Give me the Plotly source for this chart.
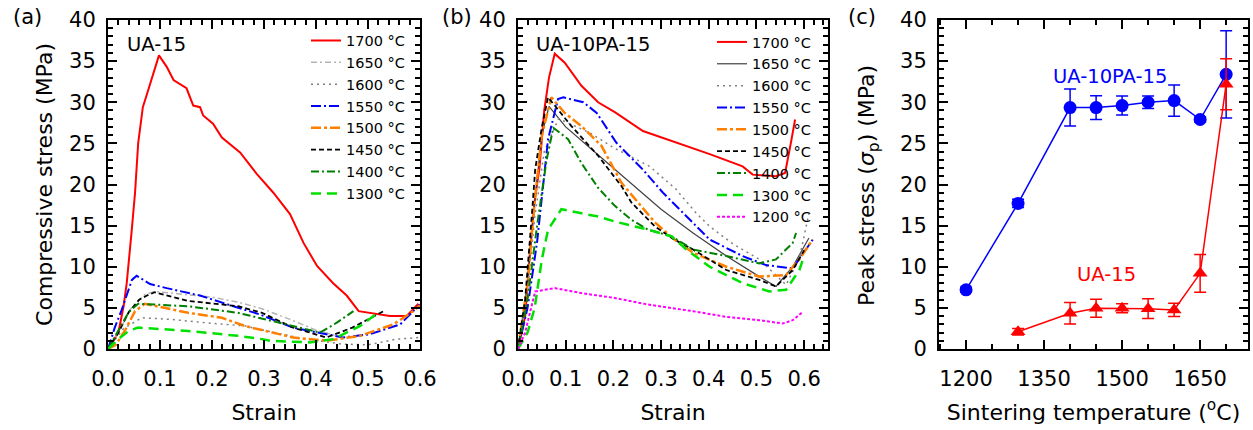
import plotly.graph_objects as go

# ---------------- data: panel (a) UA-15 ----------------
a_1700_x = [0, 0.02, 0.03, 0.036, 0.045, 0.052, 0.058, 0.067, 0.075, 0.085, 0.098, 0.113, 0.126, 0.151, 0.164, 0.177, 0.183, 0.202, 0.219, 0.254, 0.286, 0.318, 0.35, 0.376, 0.402, 0.433, 0.459, 0.482, 0.517, 0.542, 0.574, 0.597]
a_1700_y = [0, 2, 5.2, 8, 14, 19, 25, 29.4, 31, 33, 35.7, 34.3, 32.7, 31.7, 29.6, 29.4, 28.4, 27.4, 25.7, 23.9, 21.3, 19, 16.4, 12.9, 10.1, 8, 6.5, 4.6, 4.3, 4.0, 4.0, 5.5]
a_1650_x = [0, 0.02, 0.045, 0.07, 0.09, 0.15, 0.2, 0.25, 0.296, 0.35, 0.4, 0.44]
a_1650_y = [0, 2, 5, 6.6, 7.0, 6.6, 6.3, 5.7, 4.9, 3.6, 2.3, 1.6]
a_1600_x = [0, 0.03, 0.065, 0.12, 0.187, 0.263, 0.32, 0.38, 0.45, 0.5, 0.555, 0.6]
a_1600_y = [0, 2.5, 3.8, 3.6, 3.2, 2.8, 2.0, 1.2, 0.6, 0.5, 1.2, 1.4]
a_1550_x = [0, 0.013, 0.026, 0.046, 0.055, 0.081, 0.113, 0.177, 0.241, 0.292, 0.356, 0.401, 0.452, 0.504, 0.562, 0.587, 0.6]
a_1550_y = [0, 2.6, 4.7, 8.4, 8.9, 7.9, 7.4, 6.5, 5.2, 4.2, 2.6, 2.0, 1.4, 1.8, 3.0, 4.6, 5.4]
a_1500_x = [0, 0.015, 0.033, 0.052, 0.071, 0.1, 0.154, 0.219, 0.263, 0.296, 0.356, 0.42, 0.485, 0.549, 0.587, 0.6]
a_1500_y = [0, 0.5, 2.3, 4.6, 5.5, 5.1, 4.4, 3.8, 2.8, 2.3, 1.4, 1.0, 1.6, 3.0, 4.6, 5.3]
a_1450_x = [0, 0.02, 0.04, 0.06, 0.075, 0.09, 0.154, 0.25, 0.296, 0.356, 0.42, 0.47, 0.533]
a_1450_y = [0, 2, 4.5, 6.0, 6.5, 6.9, 5.85, 5.2, 4.4, 2.6, 1.4, 2.6, 4.7]
a_1400_x = [0, 0.02, 0.04, 0.058, 0.1, 0.154, 0.25, 0.302, 0.35, 0.408, 0.44, 0.472]
a_1400_y = [0, 2.2, 4.5, 5.5, 5.4, 5.2, 4.4, 3.6, 2.8, 2.0, 3.2, 4.6]
a_1300_x = [0, 0.02, 0.04, 0.058, 0.154, 0.25, 0.296, 0.312, 0.388, 0.433, 0.485, 0.523]
a_1300_y = [0, 1.2, 2.2, 2.6, 2.2, 1.6, 1.2, 1.0, 0.8, 1.2, 2.8, 4.6]

# ---------------- data: panel (b) UA-10PA-15 ----------------
b_1700_x = [0, 0.015, 0.025, 0.035, 0.045, 0.055, 0.065, 0.077, 0.098, 0.133, 0.168, 0.203, 0.262, 0.322, 0.402, 0.471, 0.492, 0.541, 0.56, 0.572, 0.581]
b_1700_y = [0, 4, 11.7, 18, 22, 29, 33, 35.9, 34.8, 32, 30, 28.8, 26.5, 25.3, 23.7, 22.2, 21.2, 21.0, 21.4, 25, 27.9]
b_1650_x = [0, 0.02, 0.035, 0.05, 0.065, 0.1, 0.15, 0.2, 0.25, 0.3, 0.367, 0.437, 0.506, 0.541, 0.576, 0.61]
b_1650_y = [0, 8, 18, 26, 29.5, 27, 24.5, 22, 19.5, 17, 14.1, 11.3, 8.8, 7.6, 10, 13.5]
b_1600_x = [0, 0.02, 0.035, 0.055, 0.085, 0.15, 0.2, 0.276, 0.33, 0.374, 0.402, 0.45, 0.506, 0.562, 0.59, 0.61]
b_1600_y = [0, 7, 16, 24, 28, 26.3, 24.5, 22.2, 19.5, 16.5, 14.9, 12.8, 10.9, 7.8, 11, 16.5]
b_1550_x = [0, 0.02, 0.04, 0.056, 0.063, 0.084, 0.095, 0.137, 0.165, 0.206, 0.262, 0.304, 0.339, 0.402, 0.471, 0.52, 0.576, 0.618]
b_1550_y = [0, 5, 13, 21.5, 25.5, 30.4, 30.6, 30, 28.7, 25.1, 21.8, 19, 17, 13.3, 11.3, 10.2, 9.8, 13.3]
b_1500_x = [0, 0.02, 0.035, 0.05, 0.07, 0.098, 0.133, 0.175, 0.217, 0.287, 0.328, 0.367, 0.437, 0.506, 0.562, 0.59, 0.618]
b_1500_y = [0, 8, 18, 26, 30.6, 28.7, 27.1, 24.7, 20.2, 15.4, 13.3, 11.7, 10, 8.8, 9.0, 10.9, 13.3]
b_1450_x = [0, 0.015, 0.03, 0.036, 0.05, 0.063, 0.112, 0.168, 0.217, 0.238, 0.287, 0.328, 0.367, 0.437, 0.506, 0.541, 0.576, 0.6]
b_1450_y = [0, 6, 17, 21.8, 27, 30.6, 27.1, 23.5, 19.8, 17.8, 14.9, 13.3, 12.1, 9.6, 8.4, 7.6, 9.6, 12]
b_1400_x = [0, 0.02, 0.04, 0.06, 0.074, 0.105, 0.133, 0.168, 0.203, 0.238, 0.273, 0.322, 0.367, 0.437, 0.506, 0.541, 0.576, 0.583]
b_1400_y = [0, 6, 15, 23, 26.9, 25.5, 22.6, 19.6, 17.4, 15.7, 14.5, 13.7, 12.1, 11.3, 10.4, 10.9, 12.9, 14.1]
b_1300_x = [0, 0.02, 0.035, 0.043, 0.05, 0.063, 0.091, 0.133, 0.168, 0.203, 0.273, 0.322, 0.353, 0.402, 0.471, 0.527, 0.562, 0.59, 0.598]
b_1300_y = [0, 2, 5, 8.4, 10.9, 14.5, 17, 16.5, 16.1, 15.5, 14.5, 13.7, 12.1, 10, 8, 7, 7.2, 9.6, 11]
b_1200_x = [0, 0.015, 0.036, 0.077, 0.133, 0.203, 0.273, 0.322, 0.367, 0.437, 0.506, 0.555, 0.576, 0.597]
b_1200_y = [0, 2, 7, 7.4, 6.8, 6.2, 5.4, 5.0, 4.6, 3.9, 3.5, 3.1, 3.5, 4.5]

# ---------------- data: panel (c) peak stress ----------------
temps_10pa = [1200, 1300, 1400, 1450, 1500, 1550, 1600, 1650, 1700]
peak_10pa = [7.2, 17.7, 29.35, 29.35, 29.6, 30.0, 30.2, 27.9, 33.4]
err_10pa = [0.3, 0.5, 2.25, 1.45, 1.15, 0.75, 1.9, 0.3, 5.3]
temps_15 = [1300, 1400, 1450, 1500, 1550, 1600, 1650, 1700]
peak_15 = [2.1, 4.35, 4.96, 4.96, 4.9, 4.75, 9.2, 32.2]
err_15 = [0.4, 1.3, 1.1, 0.55, 1.2, 0.8, 2.3, 3.1]

x_ticks_c = [1200, 1350, 1500, 1650]

W, H = 1253, 430
FONT = "DejaVu Sans"

def px(x):
    return x / W

def py(y):
    return 1 - y / H

styles = {
    "1700": dict(color="#ff0000", dash="solid", width=2),
    "1650a": dict(color="#b4b4b4", dash="6px,3px,2px,3px", width=1.5),
    "1650b": dict(color="#404040", dash="solid", width=1.2),
    "1600": dict(color="#808080", dash="2px,4px", width=1.5),
    "1550": dict(color="#0000ff", dash="10px,3px,2px,3px", width=2),
    "1500": dict(color="#ff8000", dash="10px,3px,3px,3px", width=2.5),
    "1450": dict(color="#000000", dash="5px,3px", width=1.8),
    "1400": dict(color="#008000", dash="8px,3px,2px,3px", width=2),
    "1300": dict(color="#00e000", dash="10px,6px", width=2.5),
    "1200": dict(color="#ff00ff", dash="3px,2px", width=2),
}

fig = go.Figure()

a_series = [
    ("1700 °C", a_1700_x, a_1700_y, "1700"),
    ("1650 °C", a_1650_x, a_1650_y, "1650a"),
    ("1600 °C", a_1600_x, a_1600_y, "1600"),
    ("1550 °C", a_1550_x, a_1550_y, "1550"),
    ("1500 °C", a_1500_x, a_1500_y, "1500"),
    ("1450 °C", a_1450_x, a_1450_y, "1450"),
    ("1400 °C", a_1400_x, a_1400_y, "1400"),
    ("1300 °C", a_1300_x, a_1300_y, "1300"),
]
for name, xs, ys, key in a_series:
    fig.add_trace(go.Scatter(x=xs, y=ys, mode="lines", name=name, line=styles[key],
                             xaxis="x", yaxis="y", legend="legend"))

b_series = [
    ("1700 °C", b_1700_x, b_1700_y, "1700"),
    ("1650 °C", b_1650_x, b_1650_y, "1650b"),
    ("1600 °C", b_1600_x, b_1600_y, "1600"),
    ("1550 °C", b_1550_x, b_1550_y, "1550"),
    ("1500 °C", b_1500_x, b_1500_y, "1500"),
    ("1450 °C", b_1450_x, b_1450_y, "1450"),
    ("1400 °C", b_1400_x, b_1400_y, "1400"),
    ("1300 °C", b_1300_x, b_1300_y, "1300"),
    ("1200 °C", b_1200_x, b_1200_y, "1200"),
]
for name, xs, ys, key in b_series:
    fig.add_trace(go.Scatter(x=xs, y=ys, mode="lines", name=name, line=styles[key],
                             xaxis="x2", yaxis="y2", legend="legend2"))

fig.add_trace(go.Scatter(x=temps_10pa, y=peak_10pa, mode="lines+markers", name="UA-10PA-15",
                         line=dict(color="#0000ff", width=1.5),
                         marker=dict(symbol="circle", size=13, color="#0000ff"),
                         error_y=dict(type="data", array=err_10pa, color="#0000ff", thickness=1.5, width=6),
                         xaxis="x3", yaxis="y3", showlegend=False))
fig.add_trace(go.Scatter(x=temps_15, y=peak_15, mode="lines+markers", name="UA-15",
                         line=dict(color="#ff0000", width=1.5),
                         marker=dict(symbol="triangle-up", size=13, color="#ff0000"),
                         error_y=dict(type="data", array=err_15, color="#ff0000", thickness=1.5, width=6),
                         xaxis="x3", yaxis="y3", showlegend=False))

ydom = [py(349), py(20)]
tickfont = dict(family=FONT, size=21, color="black")
titlefont = dict(family=FONT, size=22, color="black")

def minor_ticks(tick0, dtick):
    return dict(ticks="inside", ticklen=5, tickwidth=1.5, tickcolor="black",
                tickmode="linear", tick0=tick0, dtick=dtick, showgrid=False)

def xaxis_common(domain, rng, dtick, minor_tick0, minor_dtick, anchor, tickformat=None, tickvals=None):
    d = dict(domain=domain, range=rng, showline=True, linewidth=2, linecolor="black",
             mirror="allticks", ticks="inside", ticklen=9, tickwidth=2, tickcolor="black",
             tickfont=tickfont, showgrid=False, zeroline=False, anchor=anchor,
             ticklabelstandoff=10, minor=minor_ticks(minor_tick0, minor_dtick))
    if tickvals is not None:
        d["tickmode"] = "array"
        d["tickvals"] = tickvals
    else:
        d["dtick"] = dtick
        d["tick0"] = 0
    if tickformat:
        d["tickformat"] = tickformat
    return d

def yaxis_common(anchor):
    return dict(domain=ydom, range=[0, 40], showline=True, linewidth=2, linecolor="black",
                mirror="allticks", ticks="inside", ticklen=9, tickwidth=2, tickcolor="black",
                tickfont=tickfont, showgrid=False, zeroline=False, anchor=anchor, dtick=5, tick0=0,
                ticklabelstandoff=6, minor=minor_ticks(0, 1))

xa = xaxis_common([px(108), px(420)], [0, 0.6], 0.1, 0, 0.02, "y", tickformat=".1f")
xa["title"] = dict(text="Strain", font=titlefont, standoff=14)
xb = xaxis_common([px(518), px(828)], [0, 0.65], 0.1, 0, 0.02, "y2", tickformat=".1f")
xb["title"] = dict(text="Strain", font=titlefont, standoff=14)
xc = xaxis_common([px(939), px(1248)], [1148, 1742], None, 1200, 50, "y3", tickvals=x_ticks_c)
xc["title"] = dict(text="Sintering temperature (<sup>o</sup>C)", font=titlefont, standoff=14)

ya = yaxis_common("x")
ya["title"] = dict(text="Compressive stress (MPa)", font=titlefont, standoff=10)
yb = yaxis_common("x2")
yc = yaxis_common("x3")

legend_font = dict(family=FONT, size=14.5, color="black")

def label(text, x, y, size, color="black", angle=0):
    return dict(text=text, x=px(x), y=py(y), xref="paper", yref="paper", showarrow=False,
                xanchor="center", yanchor="middle", textangle=angle,
                font=dict(family=FONT, size=size, color=color))

fig.update_layout(
    width=W, height=H,
    margin=dict(l=0, r=0, t=0, b=0, autoexpand=False),
    paper_bgcolor="white", plot_bgcolor="white",
    xaxis=xa, yaxis=ya, xaxis2=xb, yaxis2=yb, xaxis3=xc, yaxis3=yc,
    legend=dict(x=px(306), y=py(24.5), xanchor="left", yanchor="top", bgcolor="rgba(0,0,0,0)",
                font=legend_font, borderwidth=0, tracegroupgap=0, itemwidth=30),
    legend2=dict(x=px(712), y=py(26), xanchor="left", yanchor="top", bgcolor="rgba(0,0,0,0)",
                 font=legend_font, borderwidth=0, tracegroupgap=0, itemwidth=30),
    annotations=[
        label("(a)", 27, 17, 21),
        label("(b)", 457, 17, 21),
        label("(c)", 862, 17, 21),
        label("UA-15", 156, 45, 19.5),
        label("UA-10PA-15", 593, 44, 19.5),
        label("UA-10PA-15", 1110, 77, 19.5, "#0000ff"),
        label("UA-15", 1106, 274, 19.5, "#ff0000"),
        label("Peak stress (<i>σ</i><sub>p</sub>) (MPa)", 869, 186, 22, angle=-90),
    ],
)

fig.write_html("out.html", config={"displayModeBar": False},
               post_script="document.body.style.margin='0';document.body.style.padding='0';")
